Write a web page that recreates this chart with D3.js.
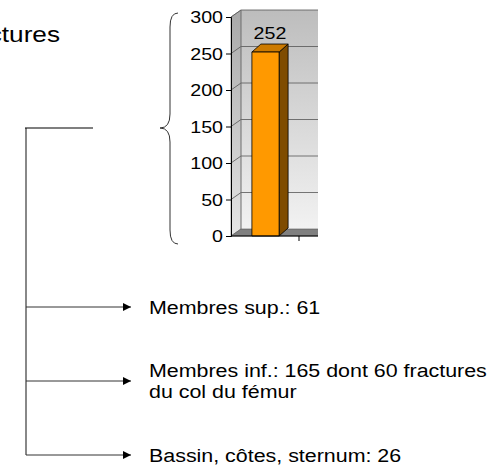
<!DOCTYPE html>
<html>
<head>
<meta charset="utf-8">
<script src="https://cdn.jsdelivr.net/npm/d3@7"></script>
<style>
  body { margin: 0; background: #fff; }
  svg { display: block; }
  text { font-family: "Liberation Sans", Arial, sans-serif; fill: #000; }
</style>
</head>
<body>
<div id="chart"></div>
<script>
// data
var categories = ["Fractures"];
var values = [252];
var yTicks = [0, 50, 100, 150, 200, 250, 300];
var titleText = "Fractures";
var breakdownLabels = ["Membres sup.", "Membres inf.", "Bassin, côtes, sternum"];
var breakdownValues = [61, 165, 26];
var breakdownNotes = ["", "dont 60 fractures|du col du fémur", ""];

var W = 496, H = 468;
var stretch = 1.19; // the slide picture is wider than it is tall

var svg = d3.select("#chart").append("svg")
    .attr("width", W)
    .attr("height", H);

var defs = svg.append("defs");

var wallGrad = defs.append("linearGradient")
    .attr("id", "wall-grad")
    .attr("x1", 0).attr("y1", 0).attr("x2", 0).attr("y2", 1);
wallGrad.append("stop").attr("offset", "0%").attr("stop-color", "#bdbdbd");
wallGrad.append("stop").attr("offset", "100%").attr("stop-color", "#f2f2f2");

var sideGrad = defs.append("linearGradient")
    .attr("id", "side-grad")
    .attr("x1", 0).attr("y1", 0).attr("x2", 0).attr("y2", 1);
sideGrad.append("stop").attr("offset", "0%").attr("stop-color", "#a8a8a8");
sideGrad.append("stop").attr("offset", "100%").attr("stop-color", "#e6e6e6");

defs.append("clipPath").attr("id", "plot-clip")
    .append("rect").attr("x", 0).attr("y", 0).attr("width", 318).attr("height", H);

defs.append("marker")
    .attr("id", "arrow")
    .attr("viewBox", "0 0 10 10")
    .attr("refX", 10).attr("refY", 5)
    .attr("markerWidth", 10).attr("markerHeight", 8)
    .attr("markerUnits", "userSpaceOnUse")
    .attr("orient", "auto")
    .append("path")
    .attr("d", "M0,0L10,5L0,10Z")
    .attr("fill", "#000");

function stretchedText(sel, x, y, size) {
    return sel.append("text")
        .attr("transform", "translate(" + x + "," + y + ") scale(" + stretch + ",1)")
        .style("font-size", size + "px");
}

// title, cut by the left edge like the slide it comes from
stretchedText(svg, 60, 42, 22)
    .attr("text-anchor", "end")
    .text(titleText);

// scales
var y = d3.scaleLinear().domain([0, 300]).range([236, 17]);
var x = d3.scaleBand().domain(categories).range([231, 299]).padding(0);
var dx = 10, dy = -7;       // wall depth
var bdx = 9, bdy = -8;      // bar depth
var plotRight = 340;

var plot = svg.append("g").attr("clip-path", "url(#plot-clip)");

// back wall
plot.append("rect")
    .attr("x", x.range()[0] + dx)
    .attr("y", y(300) + dy)
    .attr("width", plotRight - x.range()[0] - dx)
    .attr("height", y(0) - y(300))
    .attr("fill", "url(#wall-grad)");

// left wall
plot.append("path")
    .attr("d", "M" + x.range()[0] + "," + y(300) +
        "L" + (x.range()[0] + dx) + "," + (y(300) + dy) +
        "L" + (x.range()[0] + dx) + "," + (y(0) + dy) +
        "L" + x.range()[0] + "," + y(0) + "Z")
    .attr("fill", "url(#side-grad)")
    .attr("stroke", "#666")
    .attr("stroke-width", 0.6);

// floor
plot.append("path")
    .attr("d", "M" + x.range()[0] + "," + y(0) +
        "L" + (x.range()[0] + dx) + "," + (y(0) + dy) +
        "L" + plotRight + "," + (y(0) + dy) +
        "L" + plotRight + "," + y(0) + "Z")
    .attr("fill", "#808080")
    .attr("stroke", "#555")
    .attr("stroke-width", 0.6);

// gridlines on back wall and left wall
yTicks.forEach(function(t) {
    if (t === 0) return;
    plot.append("line")
        .attr("x1", x.range()[0] + dx).attr("x2", plotRight)
        .attr("y1", y(t) + dy).attr("y2", y(t) + dy)
        .attr("stroke", "#555").attr("stroke-width", 0.8);
    plot.append("line")
        .attr("x1", x.range()[0]).attr("x2", x.range()[0] + dx)
        .attr("y1", y(t)).attr("y2", y(t) + dy)
        .attr("stroke", "#555").attr("stroke-width", 0.8);
});

// back wall left edge
plot.append("line")
    .attr("x1", x.range()[0] + dx).attr("x2", x.range()[0] + dx)
    .attr("y1", y(300) + dy).attr("y2", y(0) + dy)
    .attr("stroke", "#777").attr("stroke-width", 0.6);

// bars
var barW = x.bandwidth() * 0.4;
categories.forEach(function(c, i) {
    var x0 = x(c) + (x.bandwidth() - barW) / 2 + 0.5;
    var x1 = x0 + barW;
    var top = y(values[i]);
    var bottom = y(0);
    var g = plot.append("g")
        .attr("stroke", "#000")
        .attr("stroke-width", 0.8)
        .attr("stroke-linejoin", "round");
    // side
    g.append("path")
        .attr("d", "M" + x1 + "," + top + "L" + (x1 + bdx) + "," + (top + bdy) +
            "L" + (x1 + bdx) + "," + (bottom + bdy) + "L" + x1 + "," + bottom + "Z")
        .attr("fill", "#7f4c00");
    // top
    g.append("path")
        .attr("d", "M" + x0 + "," + top + "L" + (x0 + bdx) + "," + (top + bdy) +
            "L" + (x1 + bdx) + "," + (top + bdy) + "L" + x1 + "," + top + "Z")
        .attr("fill", "#cc7a00");
    // front
    g.append("rect")
        .attr("x", x0).attr("y", top)
        .attr("width", barW).attr("height", bottom - top)
        .attr("fill", "#ff9900");

    stretchedText(svg, (x0 + x1 + bdx) / 2, top - 13, 16.5)
        .attr("text-anchor", "middle")
        .text(values[i]);
});

// y axis
var yAxis = d3.axisLeft(y).tickValues(yTicks).tickSize(5).tickPadding(3);
var yAxisG = svg.append("g")
    .attr("class", "y-axis")
    .attr("transform", "translate(" + x.range()[0] + ",0)")
    .call(yAxis);
yAxisG.select(".domain").attr("stroke", "#000").attr("stroke-width", 1);
yAxisG.selectAll(".tick line").attr("stroke", "#000");
yAxisG.selectAll(".tick text")
    .style("font-size", "16.5px")
    .attr("font-family", null)
    .attr("dy", "0.36em")
    .attr("transform", "scale(" + stretch + ",1)")
    .attr("x", -8 / stretch);

// category ticks under the floor
svg.append("g").selectAll("line")
    .data(categories)
    .enter()
    .append("line")
    .attr("x1", function(d) { return x(d) + x.bandwidth(); })
    .attr("x2", function(d) { return x(d) + x.bandwidth(); })
    .attr("y1", y(0)).attr("y2", y(0) + 5)
    .attr("stroke", "#000");
svg.append("line")
    .attr("x1", x.range()[0]).attr("x2", 318)
    .attr("y1", y(0)).attr("y2", y(0))
    .attr("stroke", "#000").attr("stroke-width", 1);

// brace next to the axis
var bx = 170, btop = 13, bmid = 128, bbot = 244;
svg.append("path")
    .attr("d", "M178," + btop +
        " Q" + bx + "," + btop + " " + bx + "," + (btop + 14) +
        " L" + bx + "," + (bmid - 14) +
        " Q" + bx + "," + bmid + " " + (bx - 10) + "," + bmid +
        " Q" + bx + "," + bmid + " " + bx + "," + (bmid + 14) +
        " L" + bx + "," + (bbot - 14) +
        " Q" + bx + "," + bbot + " 178," + bbot)
    .attr("fill", "none")
    .attr("stroke", "#333")
    .attr("stroke-width", 1);

// breakdown tree
var rowY = [307, 381, 455];
var treeX = 26;

svg.append("line")
    .attr("x1", treeX).attr("x2", treeX)
    .attr("y1", 128).attr("y2", rowY[rowY.length - 1])
    .attr("stroke", "#888").attr("stroke-width", 2);
svg.append("line")
    .attr("x1", treeX - 1).attr("x2", 93)
    .attr("y1", 128).attr("y2", 128)
    .attr("stroke", "#000").attr("stroke-width", 1.2);

breakdownLabels.forEach(function(lab, i) {
    svg.append("line")
        .attr("x1", treeX).attr("x2", 131)
        .attr("y1", rowY[i]).attr("y2", rowY[i])
        .attr("stroke", "#333").attr("stroke-width", 1)
        .attr("marker-end", "url(#arrow)");

    var lines = [lab + ": " + breakdownValues[i]];
    if (breakdownNotes[i]) {
        var parts = breakdownNotes[i].split("|");
        lines[0] += " " + parts[0];
        lines = lines.concat(parts.slice(1));
    }
    var first = rowY[i] + 6.5 - (lines.length - 1) * 10.5;
    lines.forEach(function(l, j) {
        stretchedText(svg, 149, first + j * 21, 18)
            .text(l);
    });
});
</script>
</body>
</html>
